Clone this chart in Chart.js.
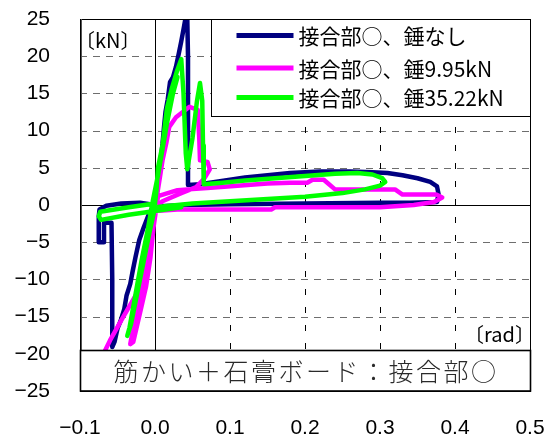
<!DOCTYPE html>
<html>
<head>
<meta charset="utf-8">
<script src="https://cdn.jsdelivr.net/npm/chart.js@4/dist/chart.umd.min.js"></script>
<style>
  html, body { margin: 0; padding: 0; background: #fff; }
  canvas { display: block; }
</style>
</head>
<body>
<canvas id="c" width="546" height="443"></canvas>
<script>
// Series names shown in the legend
const seriesNames = ['接合部○、錘なし', '接合部○、錘9.95kN', '接合部○、錘35.22kN'];

// Axis tick labels (rad / kN)
const xTickLabels = ['\u22120.1', '0.0', '0.1', '0.2', '0.3', '0.4', '0.5'];
const yTickLabels = ['\u221225', '\u221220', '\u221215', '\u221210', '\u22125', '0', '5', '10', '15', '20', '25'];

const panelTitle = '筋かい＋石膏ボード：接合部○';
const yUnit = '〔kN〕';
const xUnit = '〔rad〕';

// Load–drift hysteresis, no added weight: [rad, kN]
const loopNone = [
  [0.000, 0.0], [-0.020, 0.3], [-0.045, 0.2], [-0.065, -0.1], [-0.074, -0.6],
  [-0.075, -1.5], [-0.075, -5.0], [-0.068, -5.0], [-0.068, -2.4], [-0.058, -2.4],
  [-0.057, -10.0], [-0.057, -19.1], [-0.054, -18.4], [-0.050, -16.6], [-0.046, -15.6],
  [-0.041, -14.0], [-0.038, -12.2], [-0.033, -10.6], [-0.030, -9.0], [-0.026, -7.0],
  [-0.021, -4.7], [-0.015, -3.0], [-0.008, -1.2], [0.000, 0.3], [0.003, 2.0],
  [0.005, 4.0], [0.008, 6.5], [0.010, 8.2], [0.012, 10.5], [0.014, 12.5],
  [0.017, 14.2], [0.020, 16.5], [0.024, 17.2], [0.028, 18.6], [0.032, 20.5],
  [0.035, 22.0], [0.038, 23.6], [0.041, 25.3], [0.043, 25.3], [0.044, 20.0],
  [0.044, 2.7], [0.060, 2.8], [0.080, 3.1], [0.100, 3.4], [0.120, 3.7],
  [0.150, 4.0], [0.180, 4.3], [0.220, 4.5], [0.260, 4.5], [0.290, 4.4],
  [0.310, 4.3], [0.330, 4.0], [0.350, 3.6], [0.367, 3.1], [0.376, 2.5],
  [0.378, 1.5], [0.376, 0.4], [0.340, 0.3], [0.300, 0.3], [0.200, 0.2],
  [0.100, 0.1], [0.040, 0.0], [0.000, -0.2]
];

// Load–drift hysteresis, 9.95 kN weight: [rad, kN]
const loop995 = [
  [0.000, 0.0], [0.003, 1.5], [0.007, 4.0], [0.010, 6.0], [0.015, 8.3],
  [0.019, 10.5], [0.028, 11.8], [0.037, 12.5], [0.046, 13.2], [0.057, 12.8],
  [0.059, 9.0], [0.060, 6.0], [0.070, 5.8], [0.073, 4.8], [0.066, 3.6],
  [0.055, 2.4], [0.035, 1.6], [0.010, 0.5], [0.000, -0.4], [-0.004, -3.0],
  [-0.010, -6.5], [-0.016, -10.0], [-0.022, -13.0], [-0.028, -16.0], [-0.033, -18.7],
  [-0.029, -18.4], [-0.020, -14.5], [-0.012, -11.0], [-0.006, -7.0], [-0.002, -3.0],
  [0.004, 1.2], [0.030, 2.0], [0.070, 2.3], [0.110, 2.6], [0.150, 2.9],
  [0.180, 3.0], [0.203, 3.0], [0.210, 3.4], [0.225, 3.4], [0.232, 2.8],
  [0.240, 2.1], [0.320, 2.1], [0.330, 1.4], [0.375, 1.4], [0.383, 1.0],
  [0.372, 0.4], [0.345, 0.0], [0.300, -0.3], [0.160, -0.3], [0.155, -0.6],
  [0.030, -0.6], [0.000, -0.8], [-0.007, -6.0], [-0.025, -12.0], [-0.045, -15.5],
  [-0.060, -18.2], [-0.076, -21.5]
];

// Load–drift hysteresis, 35.22 kN weight: [rad, kN]
const loop3522 = [
  [0.035, -0.3], [0.000, -0.8], [-0.035, -1.3], [-0.072, -2.0], [-0.075, -1.5],
  [-0.073, -0.9], [-0.035, -0.3], [0.000, 0.2], [0.002, 2.0], [0.004, 5.0],
  [0.010, 8.0], [0.013, 10.5], [0.016, 13.0], [0.022, 15.5], [0.029, 17.9],
  [0.035, 19.6], [0.038, 15.0], [0.041, 7.0], [0.043, 4.8], [0.050, 9.0],
  [0.056, 14.0], [0.060, 16.4], [0.063, 14.0], [0.064, 8.0], [0.065, 2.8],
  [0.090, 3.0], [0.120, 3.3], [0.160, 3.6], [0.200, 3.9], [0.240, 4.2],
  [0.270, 4.3], [0.290, 4.1], [0.303, 3.6], [0.307, 3.1], [0.300, 2.6],
  [0.280, 2.1], [0.250, 1.6], [0.200, 1.1], [0.150, 0.8], [0.100, 0.5],
  [0.050, 0.2], [0.000, -0.3], [-0.008, -4.0], [-0.016, -8.0], [-0.024, -12.0],
  [-0.032, -16.0], [-0.037, -17.6], [-0.034, -16.5], [-0.026, -12.0], [-0.018, -7.5],
  [-0.010, -3.5], [-0.003, 0.5], [0.004, 4.0], [0.010, 7.5], [0.016, 11.0],
  [0.024, 15.0], [0.030, 17.2]
];

const toPoints = arr => arr.map(([x, y]) => ({ x, y }));

const X_MIN = -0.1, X_MAX = 0.5, X_STEP = 0.1;
const Y_MIN = -25, Y_MAX = 25, Y_STEP = 5;

const CJK = '"Noto Sans CJK JP", "Noto Sans CJK SC", sans-serif';
const LATIN = '"Liberation Sans", Arial, sans-serif';

// Grid, frame, legend box, unit labels and caption box
const decorations = {
  id: 'decorations',
  beforeDatasetsDraw(chart) {
    const { ctx, chartArea: a, scales: { x, y } } = chart;
    const crisp = v => Math.round(v) + 0.5;
    ctx.save();
    ctx.lineWidth = 1;

    // dashed horizontal grid
    ctx.strokeStyle = '#6e6e6e';
    ctx.setLineDash([7, 6]);
    y.ticks.forEach(t => {
      if (t.value === 0 || t.value <= Y_MIN || t.value >= Y_MAX) return;
      const py = crisp(y.getPixelForValue(t.value));
      ctx.beginPath(); ctx.moveTo(a.left, py); ctx.lineTo(a.right, py); ctx.stroke();
    });

    // dashed vertical grid
    ctx.strokeStyle = '#000';
    ctx.setLineDash([6, 12]);
    x.ticks.forEach(t => {
      if (Math.abs(t.value) < 1e-9 || t.value <= X_MIN + 1e-9 || t.value >= X_MAX - 1e-9) return;
      const px = crisp(x.getPixelForValue(t.value));
      ctx.beginPath(); ctx.moveTo(px, a.top); ctx.lineTo(px, a.bottom); ctx.stroke();
    });

    // solid zero axes
    ctx.setLineDash([]);
    ctx.strokeStyle = '#000';
    const y0 = crisp(y.getPixelForValue(0));
    const x0 = crisp(x.getPixelForValue(0));
    ctx.beginPath(); ctx.moveTo(a.left, y0); ctx.lineTo(a.right, y0); ctx.stroke();
    ctx.beginPath(); ctx.moveTo(x0, a.top); ctx.lineTo(x0, a.bottom); ctx.stroke();
    ctx.restore();
  },
  afterDatasetsDraw(chart) {
    const { ctx, chartArea: a, scales: { y } } = chart;
    const crisp = v => Math.round(v) + 0.5;
    ctx.save();

    // plot frame
    ctx.strokeStyle = '#000';
    ctx.lineWidth = 1;
    ctx.strokeRect(crisp(a.left), crisp(a.top), Math.round(a.right - a.left), Math.round(a.bottom - a.top));
    ctx.strokeStyle = '#555';
    ctx.beginPath(); ctx.moveTo(crisp(a.left) + 1, a.top); ctx.lineTo(crisp(a.left) + 1, a.bottom); ctx.stroke();

    // caption box along the bottom of the plot
    const capTop = crisp(y.getPixelForValue(-19.5));
    const capBot = crisp(a.bottom) - 0.5;
    ctx.fillStyle = '#fff';
    ctx.fillRect(a.left, capTop, a.right - a.left, capBot - capTop);
    ctx.strokeStyle = '#000';
    ctx.lineWidth = 1.6;
    ctx.strokeRect(crisp(a.left), capTop, Math.round(a.right - a.left), capBot - capTop);
    ctx.fillStyle = '#2a2a2a';
    ctx.font = '300 25px ' + CJK;
    ctx.textAlign = 'center';
    ctx.textBaseline = 'middle';
    if ('letterSpacing' in ctx) ctx.letterSpacing = '2.5px';
    ctx.fillText(panelTitle, (a.left + a.right) / 2 + 1, (capTop + capBot) / 2 + 1);
    if ('letterSpacing' in ctx) ctx.letterSpacing = '0px';

    // legend box in the upper right corner
    const lgL = crisp(a.left + 131), lgT = crisp(a.top), lgR = crisp(a.right), lgB = crisp(a.top + 97);
    ctx.fillStyle = '#fff';
    ctx.fillRect(lgL, lgT, lgR - lgL, lgB - lgT);
    ctx.strokeStyle = '#000';
    ctx.lineWidth = 1;
    ctx.strokeRect(lgL, lgT, lgR - lgL, lgB - lgT);
    const rows = [a.top + 16.5, a.top + 49, a.top + 78.5];
    chart.data.datasets.forEach((ds, i) => {
      const ry = rows[i];
      ctx.strokeStyle = ds.borderColor;
      ctx.lineWidth = 5;
      ctx.beginPath(); ctx.moveTo(lgL + 25, ry); ctx.lineTo(lgL + 82, ry); ctx.stroke();
      ctx.fillStyle = '#000';
      ctx.font = '21px ' + CJK;
      ctx.textAlign = 'left';
      ctx.textBaseline = 'middle';
      ctx.fillText(ds.label, lgL + 87, ry + 1);
    });

    // unit labels
    ctx.fillStyle = '#000';
    ctx.textBaseline = 'middle';
    ctx.textAlign = 'left';
    ctx.font = '20px ' + CJK;
    ctx.fillText(yUnit, a.left - 5, a.top + 21);
    ctx.textAlign = 'right';
    ctx.fillText(xUnit, a.right + 5, a.bottom - 57);

    ctx.restore();
  }
};

new Chart(document.getElementById('c'), {
  type: 'scatter',
  data: {
    datasets: [
      { label: seriesNames[0], data: toPoints(loopNone), borderColor: '#000080', order: 2 },
      { label: seriesNames[1], data: toPoints(loop995), borderColor: '#ff00ff', order: 1 },
      { label: seriesNames[2], data: toPoints(loop3522), borderColor: '#00ff00', order: 0 }
    ].map(ds => Object.assign(ds, {
      showLine: true, pointRadius: 0, pointHoverRadius: 0, borderWidth: 4.5,
      fill: false, tension: 0, clip: 0, borderJoinStyle: 'round', borderCapStyle: 'round'
    }))
  },
  options: {
    responsive: false,
    animation: false,
    events: [],
    layout: { padding: { top: 19, right: 16, left: 0, bottom: 0 }, autoPadding: false },
    plugins: { legend: { display: false }, tooltip: { enabled: false } },
    scales: {
      x: {
        type: 'linear', min: X_MIN, max: X_MAX,
        grid: { display: false, drawTicks: false },
        border: { display: false },
        ticks: {
          stepSize: X_STEP, padding: 25, maxRotation: 0, autoSkip: false, color: '#000',
          font: { family: LATIN, size: 21 },
          callback: v => xTickLabels[Math.round((v - X_MIN) / X_STEP)]
        },
        afterFit: s => { s.height = 52; s.paddingLeft = 0; s.paddingRight = 0; }
      },
      y: {
        type: 'linear', min: Y_MIN, max: Y_MAX,
        grid: { display: false, drawTicks: false },
        border: { display: false },
        ticks: {
          stepSize: Y_STEP, padding: 30, color: '#000',
          font: { family: LATIN, size: 21 },
          callback: v => yTickLabels[Math.round((v - Y_MIN) / Y_STEP)]
        },
        afterFit: s => { s.width = 80; s.paddingTop = 0; s.paddingBottom = 0; }
      }
    }
  },
  plugins: [decorations]
});
</script>
</body>
</html>
